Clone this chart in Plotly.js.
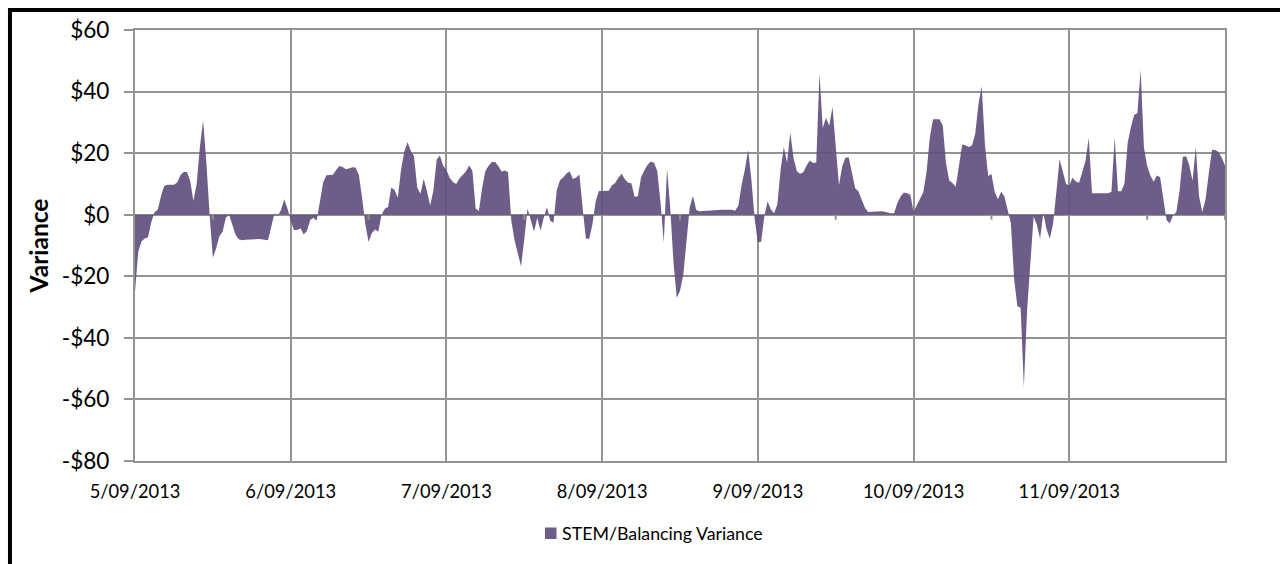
<!DOCTYPE html>
<html>
<head>
<meta charset="utf-8">
<script src="https://cdn.plot.ly/plotly-3.0.1.min.js"></script>
<style>
  html, body { margin: 0; padding: 0; background: #ffffff; }
  #chart { width: 1280px; height: 564px; }
</style>
</head>
<body>
<div id="chart"></div>
<script>
// Half-hourly STEM/Balancing variance ($), one array per trading day
const day1 = [-25,-12,-8.7,-7.7,-7.3,-2.5,0.8,1.6,6,9.3,9.7,9.7,9.7,10.5,12.8,13.9,13.9,11,4.5,10,22,30.5,17,0,-14,-11,-7,-5.5,-1,0,-3,-6.5,-8,-8.3,-8.1,-8,-8,-8,-7.9,-8,-8.2,-8.3,-4,0.5,-0.5,1.5,5,2];
const day2 = [-1.8,-5,-5,-4.4,-6.4,-5.3,-1.7,-1,-2,4.9,10.5,12.8,12.9,13,14.5,15.8,15.5,14.8,15,15.4,15.3,13,5.5,-3,-8.9,-6,-4.8,-5.5,0,1.9,2.5,8.8,8,5.5,14.5,20.5,23.5,20.8,19,8.8,6.8,11.7,7.6,3,8,17.9,19.2,15.9];
const day3 = [14.5,12,10.6,10,11.8,13,14,16,14.3,2,1.2,8.6,14.2,15.9,17.1,17.1,15.8,14,14.4,13.8,-2,-8.3,-12.6,-16.7,-8,2,-1.7,-5.5,-1,-5.2,-1,2.4,-2,-2.6,7.9,11.2,12.1,13.4,14,11.6,12.1,13.1,2,-7.8,-7.8,-3.2,4.3,7.7];
const day4 = [7.7,7.7,7.8,9.5,10.3,12,13.3,11.5,10.4,10.2,5.8,6,12.2,14.4,16.2,17.3,16.9,14.1,4,-9,15,2,-15.6,-27,-24.7,-19.7,-7.3,2.4,6.1,1.5,1.1,1.2,1.3,1.4,1.5,1.6,1.6,1.6,1.6,1.6,1.6,1.3,3,9.7,14.7,21,11.5,-1.2];
const day5 = [-9,-8.8,-0.5,4.4,1.7,0.5,3.3,14.5,22,17,26.6,18.4,14.2,13.3,13.8,15.9,17.6,16.8,17,46,28.2,31.5,28.9,35,21,9.6,15.7,18.5,18.7,13.8,8.6,7.6,5.1,2.3,0.9,1,1.1,1.1,1.1,1,0.7,0.5,0.5,3.8,5.9,7.2,7,6.5];
const day6 = [1,3.1,5,7.3,13.9,25,31,31,31,29,16.7,11.1,10.3,9.1,15.9,22.8,22.6,22,22.5,26.2,35.9,41.7,22.8,12.6,13.2,7.4,5,7.5,5.9,1.3,-2.8,-21,-29.7,-30.2,-56,-31,-14.3,-0.6,-3.3,-7.8,0.5,-4.7,-7.8,-2.9,7.2,18,14,10];
const day7 = [9.5,12,10.8,10.4,13.8,17.5,25,7,7,7,7,6.8,7,7.5,25,7.6,7.6,10,23.4,28.5,32.4,33,47,22,15.8,12.7,10.7,12.7,12.2,5.1,-1.8,-2.8,-0.2,0.9,7.8,18.8,19,16,11,22,6,0.9,5,13.4,21.1,21,20.4,18.5];
const lastValue = [16];

const dayDates = ['2013-09-05','2013-09-06','2013-09-07','2013-09-08','2013-09-09','2013-09-10','2013-09-11'];
const dayLabels = ['5/09/2013','6/09/2013','7/09/2013','8/09/2013','9/09/2013','10/09/2013','11/09/2013'];
const endDate = '2013-09-12';
const yTickVals = [-80,-60,-40,-20,0,20,40,60];
const yTickLabels = ['-$80','-$60','-$40','-$20','$0','$20','$40','$60'];
const seriesName = 'STEM/Balancing Variance';

const values = [].concat(day1, day2, day3, day4, day5, day6, day7, lastValue);
const start = Date.UTC(2013, 8, 5);
const times = values.map((v, i) => new Date(start + i * 1800000).toISOString().slice(0, 16).replace('T', ' '));

const purple = 'rgba(98,79,127,0.92)';
const grid = '#939393';
const gw = 2;
const font = 'Lato, "Open Sans", sans-serif';

const trace = {
  type: 'scatter',
  mode: 'lines',
  x: times,
  y: values,
  fill: 'tozeroy',
  fillcolor: purple,
  line: { width: 0, color: purple },
  name: seriesName,
  showlegend: false,
  hoverinfo: 'x+y'
};

const shapes = [];
// small tick marks on the zero axis at midday
dayDates.forEach(d => {
  shapes.push({
    type: 'line', xref: 'x', yref: 'y', ysizemode: 'pixel', yanchor: 0,
    x0: d + ' 12:00', x1: d + ' 12:00', y0: 0, y1: -5,
    line: { color: grid, width: gw }
  });
});
shapes.push({
  type: 'line', xref: 'x', yref: 'y', ysizemode: 'pixel', yanchor: 0,
  x0: endDate, x1: endDate, y0: 0, y1: -5, line: { color: grid, width: gw }
});
// legend swatch
shapes.push({
  type: 'rect', xref: 'paper', yref: 'paper',
  x0: 0.3761, x1: 0.3867, y0: -0.1810, y1: -0.1543,
  fillcolor: purple, line: { width: 0 }
});
// black outer frame (top and left)
shapes.push({ type: 'line', xref: 'paper', yref: 'paper', x0: -0.1147, x1: 1.2, y0: 1.0464, y1: 1.0464, line: { color: '#000', width: 4 } });
shapes.push({ type: 'line', xref: 'paper', yref: 'paper', x0: -0.1147, x1: -0.1147, y0: 1.051, y1: -0.3, line: { color: '#000', width: 4 } });

const layout = {
  width: 1280, height: 564,
  margin: { l: 135, r: 55, t: 30, b: 103 },
  paper_bgcolor: '#ffffff', plot_bgcolor: '#ffffff',
  font: { family: font, color: '#000000' },
  showlegend: false,
  xaxis: {
    type: 'date',
    range: [dayDates[0] + ' 00:00', endDate + ' 00:00'],
    tickmode: 'array', tickvals: dayDates, ticktext: dayLabels,
    showgrid: true, gridcolor: grid, gridwidth: gw,
    ticks: '', ticklabelstandoff: 13,
    tickfont: { family: font, size: 18.3, color: '#000' },
    showline: true, mirror: true, linecolor: grid, linewidth: gw,
    zeroline: false, fixedrange: true
  },
  yaxis: {
    range: [-80, 60],
    tickmode: 'array', tickvals: yTickVals, ticktext: yTickLabels,
    showgrid: true, gridcolor: grid, gridwidth: gw,
    zeroline: true, zerolinecolor: grid, zerolinewidth: gw,
    ticks: 'outside', ticklen: 9, tickcolor: grid, tickwidth: gw,
    ticklabelstandoff: 10,
    tickfont: { family: font, size: 22.6, color: '#000' },
    showline: true, mirror: true, linecolor: grid, linewidth: gw,
    title: { text: '<b>Variance</b>', font: { family: font, size: 24.5, color: '#000' }, standoff: 6 },
    fixedrange: true
  },
  shapes: shapes,
  annotations: [{
    xref: 'paper', yref: 'paper', x: 0.3899, y: -0.1671,
    xanchor: 'left', yanchor: 'middle', showarrow: false,
    text: seriesName, font: { family: font, size: 17.8, color: '#000' }
  }]
};

Plotly.newPlot('chart', [trace], layout, { displayModeBar: false, staticPlot: true });
</script>
</body>
</html>
